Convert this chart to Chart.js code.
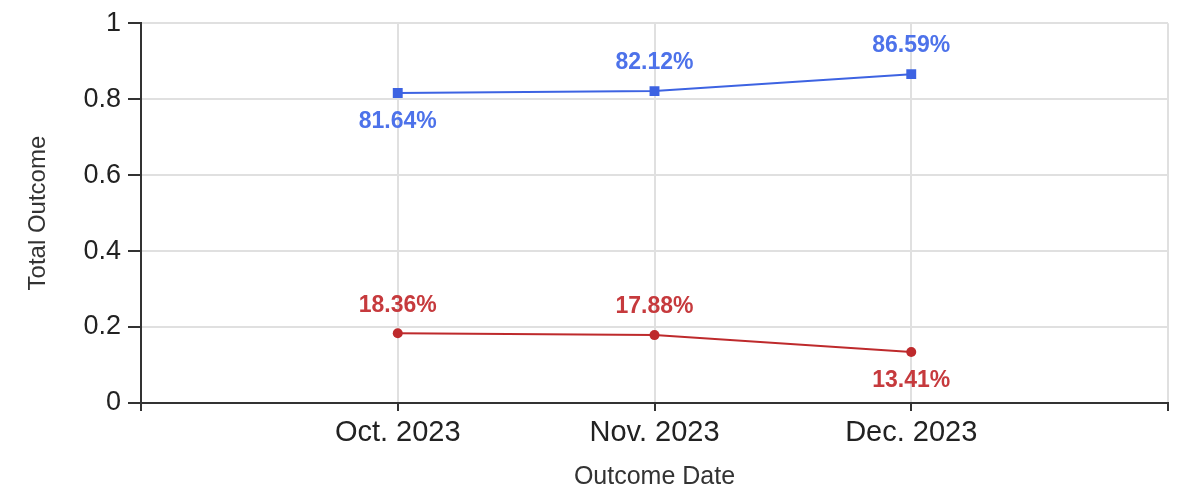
<!DOCTYPE html>
<html>
<head>
<meta charset="utf-8">
<script src="https://cdn.jsdelivr.net/npm/chart.js@4/dist/chart.umd.min.js"></script>
<style>
    html, body { margin: 0; padding: 0; background: #fff; }
    #wrap { width: 1178px; height: 492px; }
</style>
</head>
<body>
<div id="wrap"><canvas id="Chart"></canvas></div>
<script>
var categories = ['Oct. 2023', 'Nov. 2023', 'Dec. 2023'];
var positiveRate = [0.8164, 0.8212, 0.8659];
var negativeRate = [0.1836, 0.1788, 0.1341];
var yTicks = [0, 0.2, 0.4, 0.6, 0.8, 1];

(function () {
    var FONT = '"Liberation Sans", Arial, sans-serif';

    // where each value label sits relative to its point
    var labelSide = {
        0: ['below', 'above', 'above'],
        1: ['above', 'above', 'below']
    };

    var pointLabels = {
        id: 'pointLabels',
        afterDatasetsDraw: function (chart) {
            var ctx = chart.ctx;
            ctx.save();
            ctx.font = 'bold 23px ' + FONT;
            ctx.textAlign = 'center';
            ctx.textBaseline = 'middle';
            chart.data.datasets.forEach(function (ds, di) {
                var meta = chart.getDatasetMeta(di);
                ctx.fillStyle = ds.labelColor;
                meta.data.forEach(function (pt, i) {
                    var v = ds.data[i].y;
                    var dy = labelSide[di][i] === 'above' ? -28 : 29;
                    ctx.fillText((v * 100).toFixed(2) + '%', pt.x, pt.y + dy);
                });
            });
            ctx.restore();
        }
    };

    function toPoints(values) {
        return values.map(function (v, i) { return { x: i + 1, y: v }; });
    }

    var ctx = document.getElementById('Chart').getContext('2d');

    new Chart(ctx, {
        type: 'line',
        data: {
            datasets: [{
                data: toPoints(positiveRate),
                borderColor: '#3d63e2',
                backgroundColor: '#3d63e2',
                labelColor: '#4d72ea',
                borderWidth: 2,
                pointStyle: 'rect',
                pointRadius: 7,
                pointBorderWidth: 0,
                tension: 0
            }, {
                data: toPoints(negativeRate),
                borderColor: '#be2a2c',
                backgroundColor: '#be2a2c',
                labelColor: '#c63a3d',
                borderWidth: 2,
                pointStyle: 'circle',
                pointRadius: 5,
                pointBorderWidth: 0,
                tension: 0
            }]
        },
        options: {
            responsive: true,
            maintainAspectRatio: false,
            animation: false,
            layout: { padding: { top: 23, right: 10, bottom: 0, left: 0 } },
            plugins: {
                legend: { display: false },
                tooltip: { enabled: false }
            },
            scales: {
                x: {
                    type: 'linear',
                    min: 0,
                    max: categories.length + 1,
                    afterBuildTicks: function (axis) {
                        var t = [];
                        for (var i = 0; i <= categories.length + 1; i++) t.push({ value: i });
                        axis.ticks = t;
                    },
                    afterFit: function (axis) { axis.height = 89; },
                    border: { color: '#333', width: 2 },
                    grid: { color: '#e0e0e0', lineWidth: 2, tickLength: 8, tickColor: '#333', tickWidth: 2 },
                    ticks: {
                        padding: 5,
                        color: '#222',
                        font: { family: FONT, size: 29 },
                        maxRotation: 0,
                        autoSkip: false,
                        callback: function (value) {
                            return categories[value - 1] || '';
                        }
                    },
                    title: {
                        display: true,
                        text: 'Outcome Date',
                        color: '#333',
                        font: { family: FONT, size: 25 },
                        padding: { top: 4, bottom: 0 }
                    }
                },
                y: {
                    min: 0,
                    max: 1,
                    afterBuildTicks: function (axis) {
                        axis.ticks = yTicks.map(function (v) { return { value: v }; });
                    },
                    afterFit: function (axis) { axis.width = 141; },
                    border: { color: '#333', width: 2 },
                    grid: { color: '#e0e0e0', lineWidth: 2, tickLength: 13, tickColor: '#333', tickWidth: 2 },
                    ticks: {
                        padding: 7,
                        color: '#222',
                        font: { family: FONT, size: 27 },
                        callback: function (value) { return String(value); }
                    },
                    title: {
                        display: true,
                        text: 'Total Outcome',
                        color: '#333',
                        font: { family: FONT, size: 24 },
                        padding: { top: 24, bottom: 0 }
                    }
                }
            }
        },
        plugins: [pointLabels]
    });
})();
</script>
</body>
</html>
